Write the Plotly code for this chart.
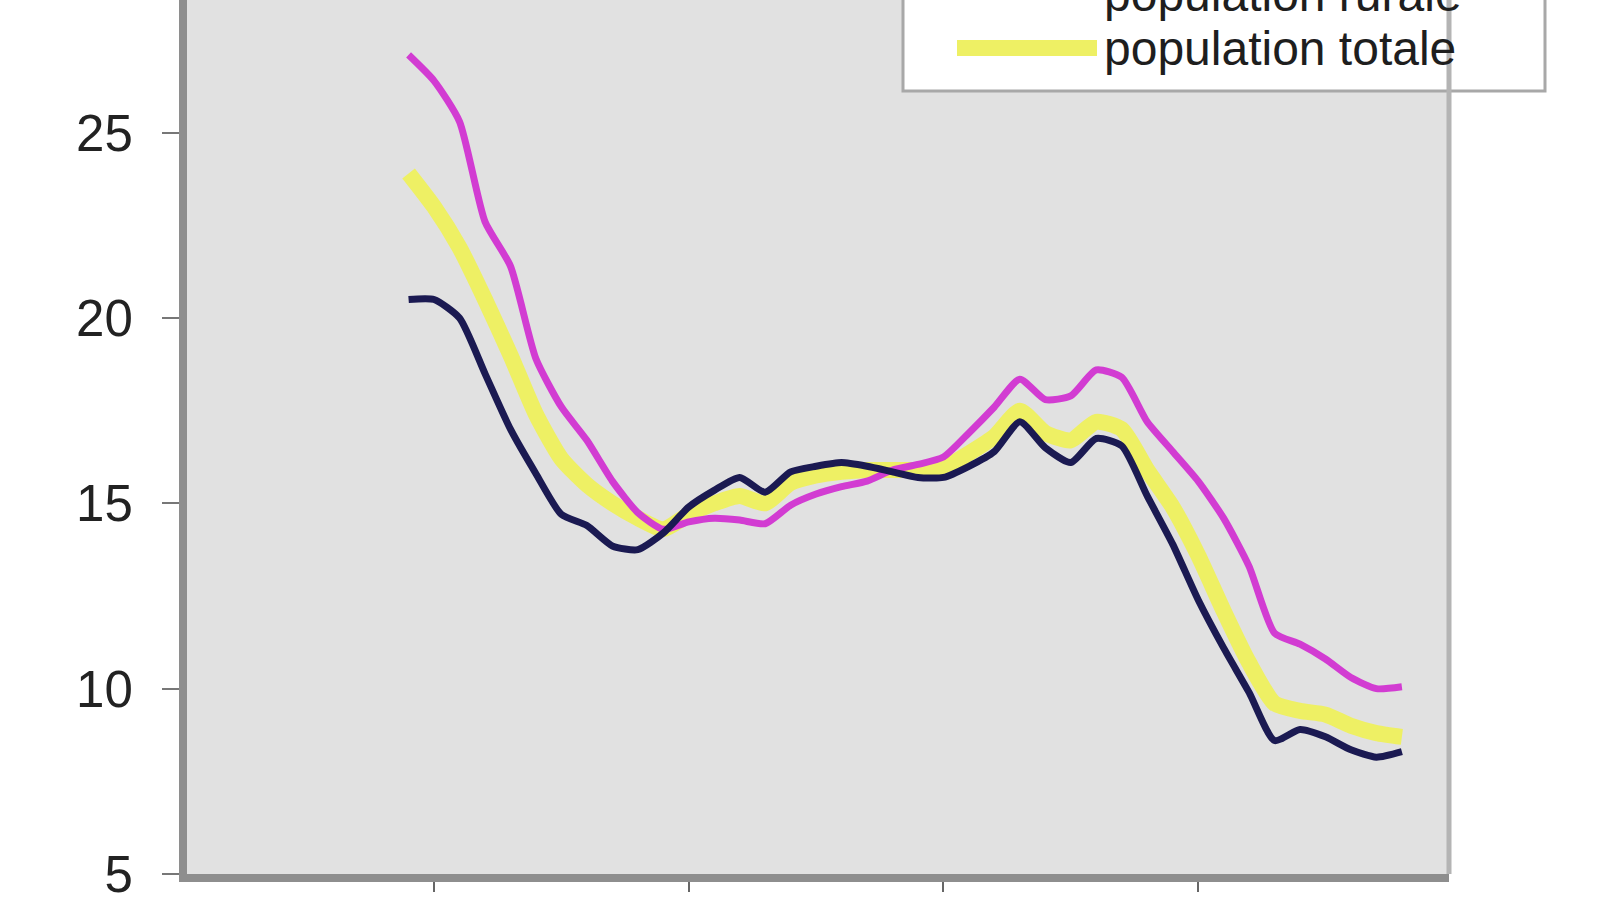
import plotly.graph_objects as go

# birth rate per 1000, yearly values
years = list(range(1959, 1999))

urbaine = [20.5, 20.5, 20.0, 18.5, 17.0, 15.8, 14.7, 14.4, 13.85, 13.75,
           14.2, 14.9, 15.35, 15.7, 15.3, 15.85, 16.0, 16.1, 16.0, 15.85,
           15.7, 15.7, 16.0, 16.4, 17.2, 16.5, 16.1, 16.75, 16.55, 15.2,
           13.9, 12.4, 11.1, 9.9, 8.6, 8.9, 8.7, 8.35, 8.15, 8.3]

rurale = [27.1, 26.4, 25.3, 22.6, 21.4, 18.9, 17.6, 16.7, 15.6, 14.75,
          14.3, 14.5, 14.6, 14.55, 14.45, 14.95, 15.25, 15.45, 15.6, 15.9,
          16.05, 16.25, 16.9, 17.6, 18.35, 17.8, 17.9, 18.6, 18.4, 17.2,
          16.4, 15.6, 14.6, 13.3, 11.5, 11.2, 10.8, 10.3, 10.0, 10.05]

totale = [23.9, 23.0, 21.9, 20.5, 19.0, 17.4, 16.2, 15.5, 15.0, 14.6,
          14.3, 14.7, 15.0, 15.2, 15.0, 15.55, 15.75, 15.85, 15.9, 15.9,
          15.9, 15.95, 16.35, 16.8, 17.5, 16.9, 16.7, 17.2, 17.0, 15.9,
          14.9, 13.6, 12.1, 10.7, 9.6, 9.4, 9.3, 9.0, 8.8, 8.7]

names = ["population urbaine", "population rurale", "population totale"]
colors = ["#1b1a52", "#d23cd2", "#eef064"]
widths = [7, 7, 16]

x_ticks = [1950, 1960, 1970, 1980, 1990, 2000]
y_ticks = [5, 10, 15, 20, 25]

W, H = 1600, 900
left, right, bottom = 187, 1449, 874
font = "Liberation Sans, Arial, sans-serif"
x_range = [1950.3, 1999.85]
y_range = [5, 28.58]


def px(x):
    return (x - left) / (right - left)


def py(y):
    return (bottom - y) / bottom


fig = go.Figure()
# yellow drawn underneath, then rural, then urban
for series, i in [(totale, 2), (rurale, 1), (urbaine, 0)]:
    fig.add_trace(go.Scatter(
        x=years, y=series, name=names[i], mode="lines",
        line=dict(color=colors[i], width=widths[i], shape="spline", smoothing=0.6),
        showlegend=False,
    ))

# hand-drawn legend box, partly cut off at the top like the source
fig.add_shape(type="rect", xref="paper", yref="paper",
              x0=px(903), x1=px(1545), y0=py(91), y1=py(-200),
              fillcolor="white", line=dict(color="#a8a8a8", width=3), layer="above")
entry_y = [-60, -5, 48]
for i in range(3):
    fig.add_shape(type="line", xref="paper", yref="paper",
                  x0=px(957), x1=px(1097), y0=py(entry_y[i]), y1=py(entry_y[i]),
                  line=dict(color=colors[i], width=widths[i]), layer="above")
    fig.add_annotation(x=px(1102), y=py(entry_y[i]), xref="paper", yref="paper",
                       text=names[i], showarrow=False, xanchor="left", yanchor="middle",
                       font=dict(family=font, size=48, color="#1e1e1e"))

# right border of the plot area
fig.add_shape(type="line", xref="paper", yref="paper", x0=1, x1=1, y0=0, y1=1,
              line=dict(color="#b4b4b4", width=5))

fig.update_layout(
    width=W, height=H,
    margin=dict(l=left, r=W - right, t=0, b=H - bottom, autoexpand=False),
    paper_bgcolor="white",
    plot_bgcolor="#e1e1e1",
    showlegend=False,
    xaxis=dict(range=x_range, tickvals=x_ticks, ticktext=[str(v) for v in x_ticks],
               ticks="outside", ticklen=10, tickwidth=2, tickcolor="#666",
               showline=True, linecolor="#8e8e8e", linewidth=8,
               showgrid=False, zeroline=False, automargin=False,
               ticklabeloverflow="allow",
               tickfont=dict(family=font, size=50, color="#222")),
    yaxis=dict(range=y_range, tickvals=y_ticks, ticks="outside", ticklen=17,
               tickwidth=2, tickcolor="#777", ticklabelstandoff=19,
               showline=True, linecolor="#8e8e8e", linewidth=8,
               showgrid=False, zeroline=False, automargin=False,
               ticklabeloverflow="allow",
               tickfont=dict(family=font, size=51, color="#222")),
    xaxis2=dict(range=x_range, overlaying="x", anchor="y", side="bottom",
                tickvals=x_ticks[1:-1], ticks="inside", ticklen=24, tickwidth=2,
                tickcolor="#777", showticklabels=False, showline=False,
                showgrid=False, zeroline=False),
    yaxis2=dict(range=y_range, overlaying="y", anchor="x", side="left",
                tickvals=y_ticks, ticks="inside", ticklen=14, tickwidth=2,
                tickcolor="#777", showticklabels=False, showline=False,
                showgrid=False, zeroline=False),
)

# drop the browser's default 8px body margin so the figure sits at the page corner
fig.write_html("out.html", config={"displayModeBar": False},
               post_script="document.body.style.margin='0';")
